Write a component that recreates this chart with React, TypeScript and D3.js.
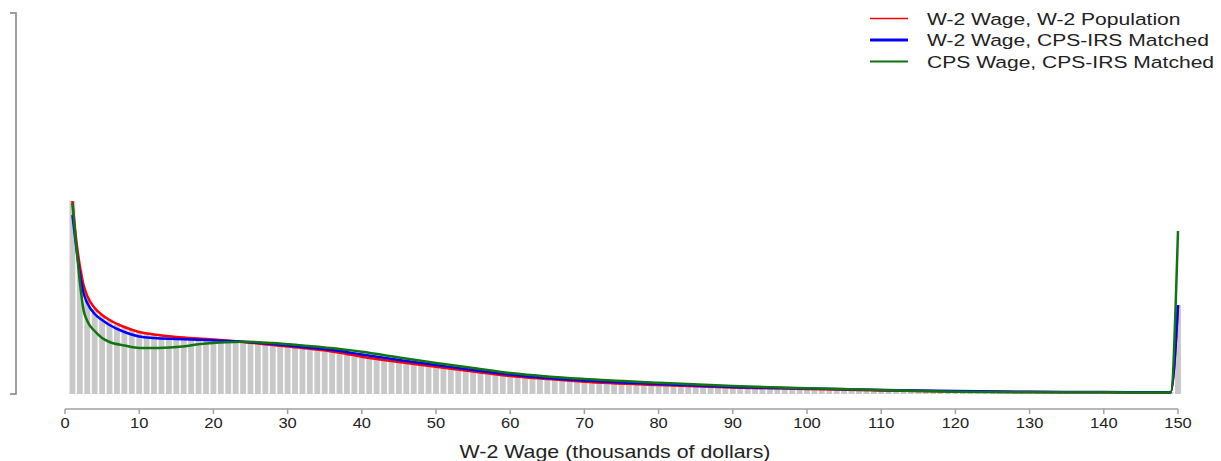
import React from "react";
import * as d3 from "d3";

// histogram share of workers per $1k wage bin (bins 1..150), W-2 population
const binWages = d3.range(1, 151);
const binShares = [
  1.93, 1.24, 0.94, 0.85, 0.79, 0.75, 0.71, 0.67, 0.65, 0.63,
  0.61, 0.6, 0.59, 0.58, 0.57, 0.56, 0.555, 0.55, 0.545, 0.54,
  0.535, 0.53, 0.53, 0.525, 0.52, 0.515, 0.505, 0.495, 0.485, 0.475,
  0.465, 0.455, 0.445, 0.435, 0.425, 0.415, 0.405, 0.395, 0.385, 0.375,
  0.365, 0.355, 0.345, 0.335, 0.325, 0.315, 0.305, 0.295, 0.285, 0.275,
  0.265, 0.255, 0.245, 0.235, 0.225, 0.215, 0.207, 0.198, 0.19, 0.18,
  0.174, 0.168, 0.162, 0.156, 0.15, 0.145, 0.14, 0.135, 0.13, 0.123,
  0.12, 0.116, 0.112, 0.108, 0.105, 0.102, 0.099, 0.096, 0.093, 0.09,
  0.088, 0.086, 0.084, 0.082, 0.08, 0.078, 0.076, 0.074, 0.072, 0.07,
  0.068, 0.066, 0.064, 0.062, 0.06, 0.058, 0.056, 0.054, 0.052, 0.05,
  0.049, 0.048, 0.047, 0.046, 0.045, 0.044, 0.042, 0.04, 0.038, 0.035,
  0.034, 0.033, 0.032, 0.031, 0.03, 0.029, 0.028, 0.027, 0.026, 0.025,
  0.024, 0.024, 0.023, 0.023, 0.022, 0.022, 0.021, 0.021, 0.02, 0.02,
  0.019, 0.019, 0.019, 0.018, 0.018, 0.018, 0.018, 0.017, 0.017, 0.017,
  0.017, 0.016, 0.016, 0.016, 0.016, 0.015, 0.015, 0.015, 0.015, 0.89,
];

// density curves
const curveWages = [1, 1.5, 2, 2.5, 3, 4, 5, 6, 8, 10, 12, 15, 19, 24, 28, 32, 37, 40, 45, 50, 55, 60, 65, 70, 80, 90, 100, 110, 120, 130, 140, 149, 150];
const w2Population = [1.93, 1.55, 1.28, 1.09, 0.98, 0.86, 0.79, 0.74, 0.67, 0.62, 0.595, 0.57, 0.55, 0.52, 0.49, 0.46, 0.413, 0.373, 0.32, 0.273, 0.225, 0.18, 0.15, 0.123, 0.09, 0.065, 0.05, 0.035, 0.025, 0.02, 0.017, 0.015, 0.88];
const w2Matched = [1.79, 1.48, 1.2, 1.01, 0.91, 0.8, 0.74, 0.69, 0.62, 0.575, 0.56, 0.55, 0.54, 0.522, 0.5, 0.47, 0.43, 0.395, 0.34, 0.29, 0.24, 0.195, 0.16, 0.135, 0.1, 0.07, 0.055, 0.04, 0.03, 0.022, 0.02, 0.017, 0.89];
const cpsMatched = [1.91, 1.5, 1.12, 0.84, 0.73, 0.63, 0.56, 0.52, 0.485, 0.46, 0.46, 0.47, 0.505, 0.523, 0.51, 0.485, 0.45, 0.423, 0.365, 0.31, 0.26, 0.21, 0.175, 0.15, 0.113, 0.08, 0.057, 0.04, 0.023, 0.017, 0.017, 0.015, 1.63];

const xTicks = d3.range(0, 151, 10);

const series = [
  { name: "W-2 Wage, W-2 Population", values: w2Population, color: "#ff0000", legendWidth: 1.5 },
  { name: "W-2 Wage, CPS-IRS Matched", values: w2Matched, color: "#0000ff", legendWidth: 3 },
  { name: "CPS Wage, CPS-IRS Matched", values: cpsMatched, color: "#107510", legendWidth: 2 },
];

export default function App() {
  const width = 1221;
  const height = 461;
  const x = d3.scaleLinear().domain([0, 150]).range([65, 1178]);
  const y = d3.scaleLinear().domain([0, 3.81]).range([394, 13]);
  const bw = x(1) - x(0);
  const font = "'Liberation Sans', Arial, sans-serif";

  const line = d3
    .line<number>()
    .x((_, i) => x(curveWages[i]))
    .y((d) => y(d))
    .curve(d3.curveMonotoneX);

  // the original output is stretched horizontally, so text is widened a bit
  const wide = (tx: number, ty: number, sx: number) => `translate(${tx},${ty}) scale(${sx},1)`;

  return (
    <svg width={width} height={height} style={{ position: "absolute", left: 0, top: 0, background: "#fff" }}>
      {/* y axis bracket, no labels */}
      <path d={`M10,${y(3.81)}H16V${y(0)}H10`} fill="none" stroke="#808080" strokeWidth={1.5} />

      {/* bars */}
      <g>
        {binWages.map((w, i) => (
          <rect
            key={w}
            x={x(w - 0.5) + 0.8}
            y={y(binShares[i])}
            width={bw - 1.6}
            height={y(0) - y(binShares[i])}
            fill="#c8c8c8"
          />
        ))}
      </g>

      {/* density lines */}
      {series.map((s) => (
        <path key={s.name} d={line(s.values) || ""} fill="none" stroke={s.color} strokeWidth={2.5} strokeLinejoin="round" />
      ))}

      {/* x axis */}
      <g>
        <line x1={x(0)} x2={x(150)} y1={409} y2={409} stroke="#a0a0a0" strokeWidth={1.5} />
        {xTicks.map((t) => (
          <g key={t}>
            <line x1={x(t)} x2={x(t)} y1={409} y2={414} stroke="#a0a0a0" strokeWidth={1.5} />
            <text transform={wide(x(t), 428, 1.1)} textAnchor="middle" fontFamily={font} fontSize={15} fill="#222">
              {t}
            </text>
          </g>
        ))}
        <text transform={wide(615, 458, 1.22)} textAnchor="middle" fontFamily={font} fontSize={17.5} fill="#222">
          W-2 Wage (thousands of dollars)
        </text>
      </g>

      {/* legend */}
      <g>
        {series.map((s, i) => {
          const ly = 18.5 + i * 21.5;
          return (
            <g key={s.name}>
              <line x1={870} x2={908} y1={ly} y2={ly} stroke={s.color} strokeWidth={s.legendWidth} />
              <text transform={wide(927, ly + 6, 1.24)} fontFamily={font} fontSize={17} fill="#222">
                {s.name}
              </text>
            </g>
          );
        })}
      </g>
    </svg>
  );
}
